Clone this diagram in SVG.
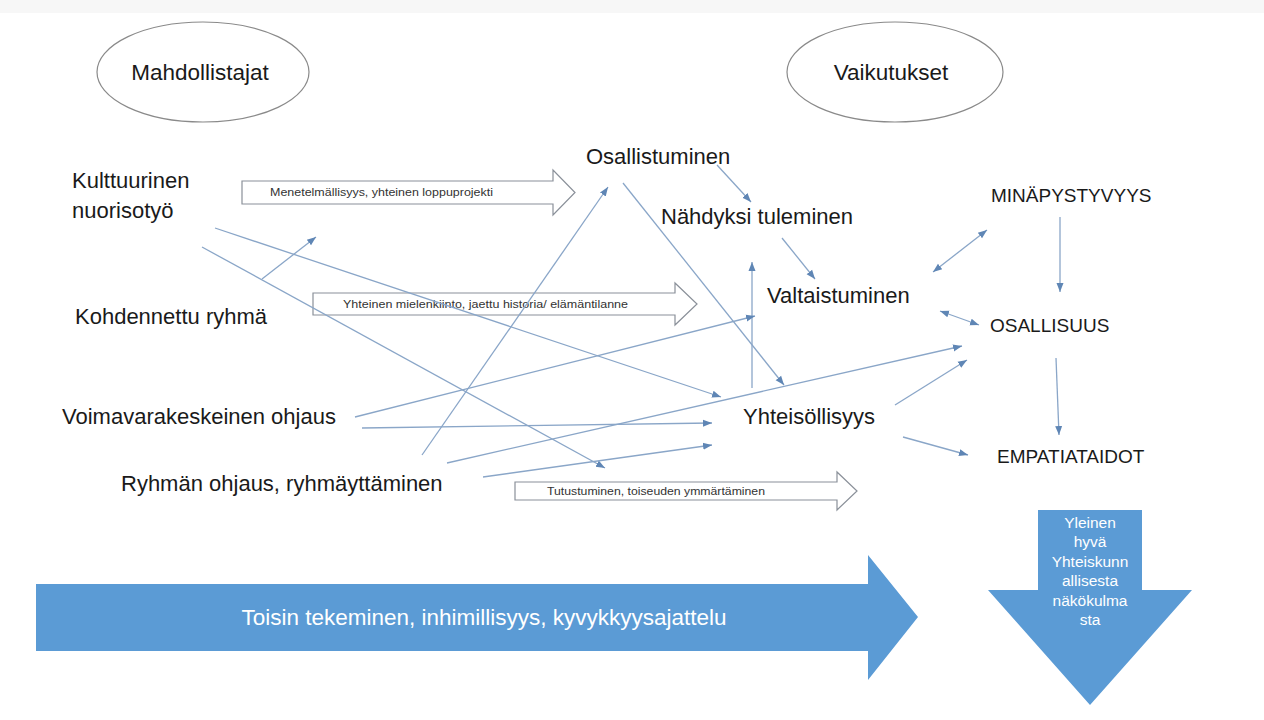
<svg xmlns="http://www.w3.org/2000/svg" width="1264" height="720" viewBox="0 0 1264 720">
<defs>
<style>
.lbl{font-family:"Liberation Sans",Arial,sans-serif;font-size:22px;fill:#1a1a1a}
.ttl{font-family:"Liberation Sans",Arial,sans-serif;font-size:22.5px;fill:#1a1a1a}
.cap{font-family:"Liberation Sans",Arial,sans-serif;font-size:19px;fill:#1a1a1a}
.small{font-family:"Liberation Sans",Arial,sans-serif;font-size:11.5px;fill:#333}
.hollow{fill:#fff;stroke:#8a9099;stroke-width:1.2}
.ell{fill:#fff;stroke:#8a8a8a;stroke-width:1.2}
.con{fill:none;stroke:#8aa6c8;stroke-width:1.3}
.blue{fill:#5b9bd5}
.wt{font-family:"Liberation Sans",Arial,sans-serif;fill:#fff}
.wtn{font-family:"Liberation Sans Narrow","Liberation Sans",Arial,sans-serif;fill:#fff;font-size:15.5px}
</style>
<marker id="ah" markerUnits="userSpaceOnUse" markerWidth="10" markerHeight="10" viewBox="0 0 10 10" refX="9" refY="5" orient="auto-start-reverse">
<path d="M0,1.5 L9,5 L0,8.5 Z" fill="#5f86b5"/>
</marker>
</defs>
<rect x="0" y="0" width="1264" height="720" fill="#fff"/>
<rect x="0" y="0" width="1264" height="13" fill="#f7f7f7"/>

<g id="mahdollistajat">
<ellipse class="ell" cx="203" cy="72" rx="106" ry="50"/>
<text class="ttl" x="200" y="80" text-anchor="middle">Mahdollistajat</text>
</g>
<g id="vaikutukset">
<ellipse class="ell" cx="895" cy="72" rx="108" ry="50"/>
<text class="ttl" x="891" y="80" text-anchor="middle">Vaikutukset</text>
</g>

<g id="kulttuurinen">
<text class="lbl" x="72" y="188">Kulttuurinen</text>
<text class="lbl" x="72" y="218">nuorisotyö</text>
</g>
<g id="kohdennettu"><text class="lbl" x="75" y="324">Kohdennettu ryhmä</text></g>
<g id="voimavara"><text class="lbl" x="62" y="424">Voimavarakeskeinen ohjaus</text></g>
<g id="ryhman"><text class="lbl" x="121" y="491">Ryhmän ohjaus, ryhmäyttäminen</text></g>

<g id="osallistuminen"><text class="lbl" x="586" y="164">Osallistuminen</text></g>
<g id="nahdyksi"><text class="lbl" x="661" y="224">Nähdyksi tuleminen</text></g>
<g id="valtaistuminen"><text class="lbl" x="767" y="303">Valtaistuminen</text></g>
<g id="yhteisollisyys"><text class="lbl" x="743" y="424">Yhteisöllisyys</text></g>
<g id="minapystyvyys"><text class="cap" x="991" y="202">MINÄPYSTYVYYS</text></g>
<g id="osallisuus"><text class="cap" x="990" y="332">OSALLISUUS</text></g>
<g id="empatiataidot"><text class="cap" x="997" y="463">EMPATIATAIDOT</text></g>

<g id="arrow-menetelmallisyys">
<path class="hollow" d="M242,181 H553 V170 L575,192.5 L553,215 V204 H242 Z"/>
<text class="small" x="270" y="196" textLength="223" lengthAdjust="spacingAndGlyphs">Menetelmällisyys, yhteinen loppuprojekti</text>
</g>
<g id="arrow-yhteinen">
<path class="hollow" d="M313,293 H675 V283 L697,304 L675,325 V315 H313 Z"/>
<text class="small" x="343" y="308" textLength="285" lengthAdjust="spacingAndGlyphs">Yhteinen mielenkiinto, jaettu historia/ elämäntilanne</text>
</g>
<g id="arrow-tutustuminen">
<path class="hollow" d="M515,482 H837 V472 L857,491 L837,510 V500 H515 Z"/>
<text class="small" x="547" y="495" textLength="218" lengthAdjust="spacingAndGlyphs">Tutustuminen, toiseuden ymmärtäminen</text>
</g>

<g id="connectors">
<line class="con" x1="215" y1="228" x2="721" y2="397" marker-end="url(#ah)"/>
<line class="con" x1="202" y1="247" x2="605" y2="468" marker-end="url(#ah)"/>
<line class="con" x1="262" y1="279" x2="316" y2="237" marker-end="url(#ah)"/>
<line class="con" x1="422" y1="455" x2="608" y2="187" marker-end="url(#ah)"/>
<line class="con" x1="623" y1="183" x2="784" y2="385" marker-end="url(#ah)"/>
<line class="con" x1="717" y1="165" x2="751" y2="202" marker-end="url(#ah)"/>
<line class="con" x1="782" y1="238" x2="815" y2="279" marker-end="url(#ah)"/>
<line class="con" x1="752" y1="388" x2="752" y2="262" marker-end="url(#ah)"/>
<line class="con" x1="355" y1="417" x2="755" y2="316" marker-end="url(#ah)"/>
<line class="con" x1="362" y1="428" x2="712" y2="423" marker-end="url(#ah)"/>
<line class="con" x1="447" y1="463" x2="962" y2="346" marker-end="url(#ah)"/>
<line class="con" x1="483" y1="477" x2="712" y2="445" marker-end="url(#ah)"/>
<line class="con" x1="895" y1="405" x2="967" y2="360" marker-end="url(#ah)"/>
<line class="con" x1="903" y1="437" x2="968" y2="455" marker-end="url(#ah)"/>
<line class="con" x1="933" y1="272" x2="987" y2="230" marker-start="url(#ah)" marker-end="url(#ah)"/>
<line class="con" x1="940" y1="311" x2="979" y2="325" marker-start="url(#ah)" marker-end="url(#ah)"/>
<line class="con" x1="1060" y1="217" x2="1060" y2="292" marker-end="url(#ah)"/>
<line class="con" x1="1056" y1="358" x2="1059" y2="435" marker-end="url(#ah)"/>
</g>

<g id="big-arrow">
<path class="blue" d="M36,584 H868 V555 L918,617 L868,680 V651 H36 Z"/>
<text class="wt" x="484" y="625" font-size="22.5" text-anchor="middle">Toisin tekeminen, inhimillisyys, kyvykkyysajattelu</text>
</g>
<g id="down-arrow">
<path class="blue" d="M1038,510 H1142 V590 H1192 L1090,705 L988,590 H1038 Z"/>
<text class="wtn" text-anchor="middle" x="1090" y="528">Yleinen</text>
<text class="wtn" text-anchor="middle" x="1090" y="547">hyvä</text>
<text class="wtn" text-anchor="middle" x="1090" y="567">Yhteiskunn</text>
<text class="wtn" text-anchor="middle" x="1090" y="586">allisesta</text>
<text class="wtn" text-anchor="middle" x="1090" y="606">näkökulma</text>
<text class="wtn" text-anchor="middle" x="1090" y="625">sta</text>
</g>
</svg>
